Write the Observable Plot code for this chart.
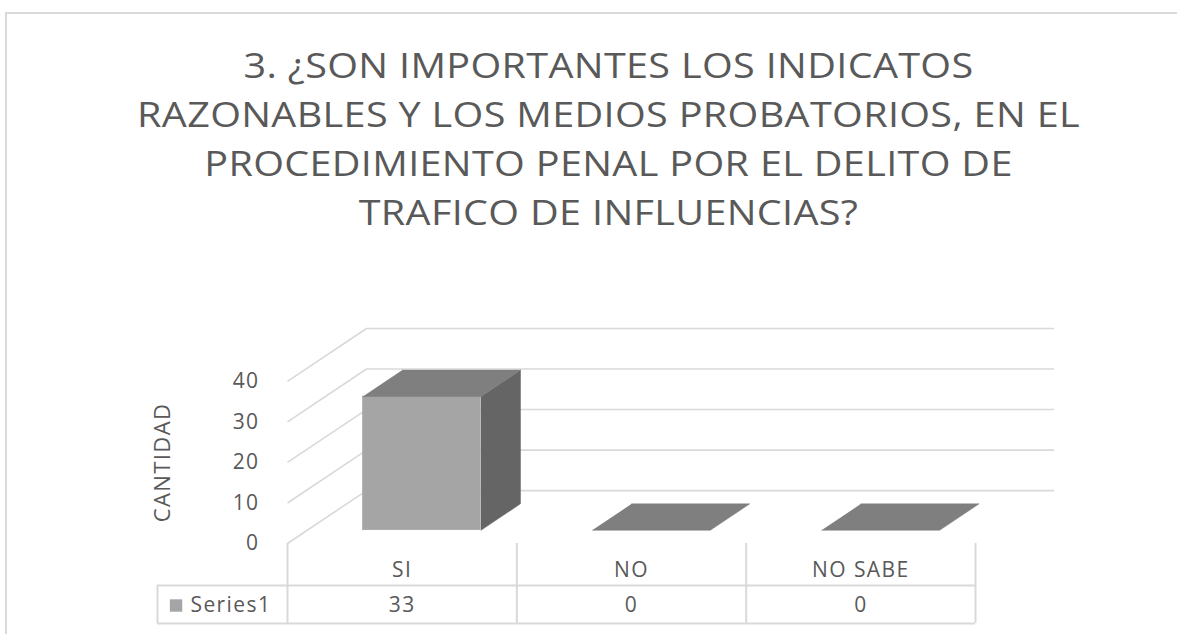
<!DOCTYPE html>
<html><head><meta charset="utf-8">
<script src="https://cdn.jsdelivr.net/npm/d3@7"></script>
<script src="https://cdn.jsdelivr.net/npm/@observablehq/plot@0.6"></script>
<style>
body{margin:0;background:#fff;width:1177px;height:634px;overflow:hidden;position:relative;font-family:"Open Sans",sans-serif}
#frame{position:absolute;left:5px;top:12px;width:1300px;height:700px;border-left:2px solid #d9d9d9;border-top:2px solid #d9d9d9;box-sizing:border-box}
#title{position:absolute;left:40px;top:40px;width:1137px;text-align:center;font-size:35px;line-height:49px;color:#595959;white-space:nowrap;letter-spacing:0.3px;transform:scaleX(1.13);transform-origin:50% 50%}
#chart{position:absolute;left:0;top:280px}
#chart svg text{letter-spacing:1.4px}
</style></head>
<body>
<div id="frame"></div>
<div id="title"></div>
<div id="chart"></div>
<script>
// ---- data ----
const titleLines = ["3. ¿SON IMPORTANTES LOS INDICATOS","RAZONABLES Y LOS MEDIOS PROBATORIOS, EN EL","PROCEDIMIENTO PENAL POR EL DELITO DE","TRAFICO DE INFLUENCIAS?"];
const categories = ["SI","NO","NO SABE"];
const values = [33,0,0];
const seriesName = "Series1";
const yTicks = [0,10,20,30,40];
const yLabel = "CANTIDAD";

// ---- geometry (oblique 3D projection in scale units) ----
const DX = 0.3445, DY = 13.05;       // full depth offset
const D0 = 0.25, D1 = 0.75;          // bar depth span
const HALF = 0.2575;                 // half bar width
const ROW1 = -10.37, ROW2 = -19.75;  // table row lines
const LEG = -0.567;                  // table left edge
const grid = "#d9d9d9", txt = "#595959";

document.getElementById("title").innerHTML = titleLines.join("<br>");

const rows = categories.map((c,i)=>({c,i,v:values[i]}));
const P = (x,v,d,id)=>({x:x+d*DX, y:v+d*DY, id});
const sideFaces=[], topFaces=[];
rows.forEach(r=>{
  const l=r.i+0.5-HALF, rr=r.i+0.5+HALF;
  if (r.v>0) sideFaces.push(P(rr,0,D0,r.c),P(rr,0,D1,r.c),P(rr,r.v,D1,r.c),P(rr,r.v,D0,r.c));
  topFaces.push(P(l,r.v,D0,r.c),P(rr,r.v,D0,r.c),P(rr,r.v,D1,r.c),P(l,r.v,D1,r.c));
});

const n = categories.length;
const fs = 21;
const chart = Plot.plot({
  width:1177, height:354,
  marginLeft:287, marginRight:202, marginTop:48, marginBottom:91,
  style:{fontFamily:"'Open Sans', sans-serif", fontSize:fs+"px", color:txt, background:"transparent", overflow:"visible"},
  x:{domain:[0,n], axis:null},
  y:{domain:[0,40+DY], axis:null},
  marks:[
    Plot.ruleY(yTicks,{y:v=>v+DY, x1:()=>DX, x2:()=>n+DX, stroke:grid, strokeWidth:1.6}),
    Plot.link(yTicks,{x1:()=>0, y1:v=>v, x2:()=>DX, y2:v=>v+DY, stroke:grid, strokeWidth:1.6}),
    Plot.rect(rows.filter(r=>r.v>0),{x1:r=>r.i+0.5-HALF+D0*DX, x2:r=>r.i+0.5+HALF+D0*DX, y1:()=>D0*DY, y2:r=>r.v+D0*DY, fill:"#a5a5a5", stroke:"#a5a5a5", strokeWidth:0.5}),
    Plot.line(sideFaces,{x:"x", y:"y", z:"id", fill:"#656565", stroke:"#656565", strokeWidth:0.5}),
    Plot.line(topFaces,{x:"x", y:"y", z:"id", fill:"#7f7f7f", stroke:"#7f7f7f", strokeWidth:0.5}),
    Plot.axisY(yTicks,{tickSize:0, tickPadding:28, fontSize:fs, label:null}),
    Plot.text([yLabel],{x:()=>-0.545, y:()=>20, rotate:-90, fontSize:22, fill:txt}),
    Plot.ruleX(d3.range(n+1),{x:d=>d, y1:()=>0, y2:()=>ROW2, stroke:grid, strokeWidth:2}),
    Plot.ruleX([LEG],{y1:()=>ROW1, y2:()=>ROW2, stroke:grid, strokeWidth:2}),
    Plot.ruleY([ROW1,ROW2],{x1:()=>LEG, x2:()=>n, stroke:grid, strokeWidth:2}),
    Plot.text(rows,{x:r=>r.i+0.5, y:()=>-6.67, text:"c", fontSize:fs, fill:txt}),
    Plot.text(rows,{x:r=>r.i+0.5, y:()=>-15.3, text:r=>String(r.v), fontSize:fs, fill:txt}),
    Plot.dot([seriesName],{x:()=>-0.486, y:()=>-15.3, symbol:"square", r:7, fill:"#a5a5a5", stroke:null}),
    Plot.text([seriesName],{x:()=>-0.423, y:()=>-15.3, text:d=>d, textAnchor:"start", fontSize:fs, fill:txt})
  ]
});
document.getElementById("chart").appendChild(chart);
</script>
</body></html>
